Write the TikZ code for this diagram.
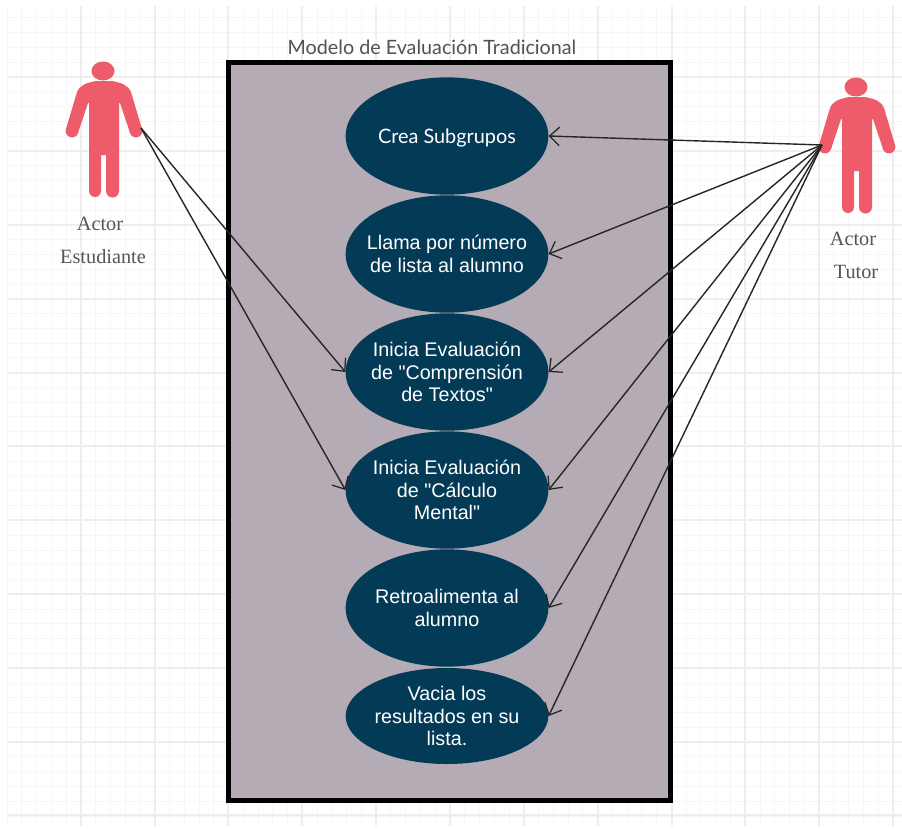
\documentclass[tikz,border=0pt]{standalone}
\usepackage{fontspec}
\setmainfont{Liberation Sans}
\newfontfamily\ucfont{Liberation Sans}
\newfontfamily\titlefont{Lato}
\newfontfamily\actorfont{Liberation Serif}
\usetikzlibrary{arrows.meta,shapes.geometric}
\definecolor{gridmin}{RGB}{246,246,246}
\definecolor{gridmaj}{RGB}{238,238,238}
\definecolor{boxfill}{RGB}{181,171,181}
\definecolor{ucfill}{RGB}{3,59,87}
\definecolor{personc}{RGB}{238,91,106}
\definecolor{actortxt}{RGB}{85,85,85}
\tikzset{
  uc/.style={ellipse,fill=ucfill,inner sep=0pt,minimum width=152pt},
  uctext/.style={text=white,inner sep=0pt,outer sep=0pt,align=center,font=\ucfont\fontsize{14.8pt}{17pt}\selectfont},
  link/.style={draw=black!85,line width=1.05pt,-{Straight Barb[length=7.5pt,width=14pt,line width=0.95pt]}},
  actorlabel/.style={inner sep=0pt,text=actortxt,font=\actorfont\fontsize{15.2pt}{17pt}\selectfont},
  person/.pic={
    \fill[personc] (-1,-9) ellipse [x radius=11.5,y radius=9.5];
    \fill[personc] (-8,1) .. controls (-18,3) and (-24,5) .. (-27,12) -- (-38,49) -- (-26,53) -- (-16,23) -- (-15,23) -- (-15,111) -- (-3,111) -- (-3,75) -- (2,75) -- (2,111) -- (15,111) -- (15,23) -- (16,23) -- (26,53) -- (38,49) -- (27,12) .. controls (24,5) and (18,3) .. (8,1) -- cycle;
    \fill[personc] (-32,51) circle (6.4);
    \fill[personc] (32,51) circle (6.4);
    \fill[personc] (-9,111) circle (6);
    \fill[personc] (8.5,111) circle (6.5);
  }
}
\begin{document}
\begin{tikzpicture}[x=0.75pt,y=-0.75pt]
\useasboundingbox (0,0) rectangle (902,828);
\fill[white] (0,0) rectangle (902,828);
% minor grid
\foreach \i in {0,...,60}{
  \pgfmathsetmacro\gx{81-73.8+14.76*\i}
  \ifdim \gx pt<902pt \draw[gridmin,line width=0.7pt] (\gx,6) -- (\gx,826); \fi
}
\foreach \i in {0,...,55}{
  \pgfmathsetmacro\gy{77-73.9+14.78*\i}
  \ifdim \gy pt<828pt \ifdim \gy pt>5pt \draw[gridmin,line width=0.7pt] (8,\gy) -- (902,\gy); \fi\fi
}
% major grid
\foreach \gx in {81,155,228,302,376,450,524,598,672,745,819,893}{
  \draw[gridmaj,line width=1.1pt] (\gx,6) -- (\gx,826);
}
\foreach \gy in {77,151,225,299,373,446,520,594,668,742,815}{
  \draw[gridmaj,line width=1.1pt] (8,\gy) -- (902,\gy);
}
% boundary
\node[draw=black,fill=boxfill,line width=3.75pt,minimum width=332pt,minimum height=553pt,inner sep=0pt] (sys) at (449.5,431.5) {};
\node[inner sep=0pt,text=black!68,font=\titlefont\fontsize{14.8pt}{17pt}\selectfont] (title) at (432,47) {Modelo de Evaluación Tradicional};
% use cases
\node[uc,minimum height=88pt,label={[uctext,font=\titlefont\fontsize{14.9pt}{17pt}\selectfont,yshift=-1.8pt]center:Crea Subgrupos}] (e1) at (447,136) {};
\node[uc,minimum height=88pt,label={[uctext]center:Llama por número\\de lista al alumno}] (e2) at (447,254) {};
\node[uc,minimum height=88pt,label={[uctext]center:Inicia Evaluación\\de "Comprensión\\de Textos"}] (e3) at (447,372) {};
\node[uc,minimum height=88pt,label={[uctext]center:Inicia Evaluación\\de "Cálculo\\Mental"}] (e4) at (447,490) {};
\node[uc,minimum height=88pt,label={[uctext]center:Retroalimenta al\\alumno}] (e5) at (447,608) {};
\node[uc,minimum height=72pt,label={[uctext]center:Vacia los\\resultados en su\\lista.}] (e6) at (447,716) {};
% actors
\pic at (104,80) {person};
\pic at (857,96) {person};
\node[actorlabel] (a1) at (100,224) {Actor};
\node[actorlabel] (a2) at (103,257) {Estudiante};
\node[actorlabel] (t1) at (853,239) {Actor};
\node[actorlabel] (t2) at (856,272) {Tutor};
\coordinate (hs) at (141,128);
\coordinate (ht) at (822,145);
% connectors
\draw[link] (hs) -- (e3.west);
\draw[link] (hs) -- (e4.west);
\foreach \e in {e1,e2,e3,e4,e5,e6}{
  \draw[link] (ht) -- (\e.east);
}
\end{tikzpicture}
\end{document}
